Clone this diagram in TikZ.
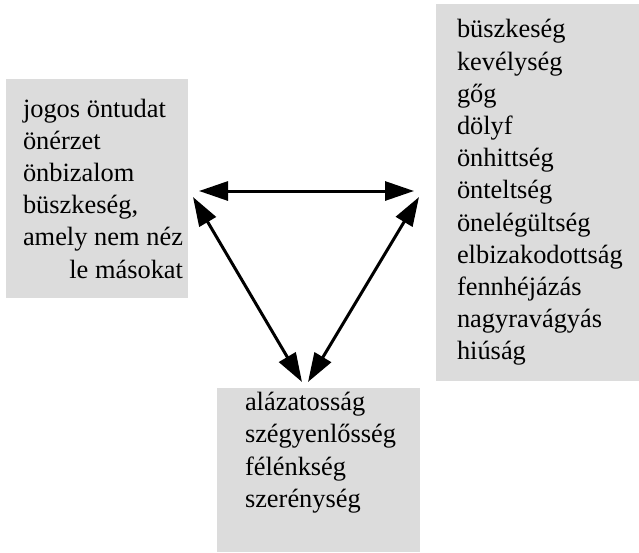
\documentclass[tikz,border=0pt]{standalone}
\usepackage{fontspec}
\setmainfont{Liberation Serif}
\usepackage{xcolor}
\usetikzlibrary{arrows.meta, positioning}
\definecolor{boxgray}{RGB}{220,220,220}
\tikzset{
    wordbox/.style={rectangle, fill=boxgray, inner sep=0pt, font=\fontsize{26.4}{32.2}\selectfont},
    biarrow/.style={{Triangle[length=29pt, width=19pt]}-{Triangle[length=29pt, width=19pt]}, line width=3pt},
}

\begin{document}
\begin{tikzpicture}[x=1pt, y=-1pt]
    \useasboundingbox (0,0) rectangle (639,552);

    % Left box
    \node[wordbox, minimum height=219pt] (pride) at (97,188.5)
        {\parbox{182pt}{\leftskip=17pt \rightskip=5pt
        jogos öntudat\\önérzet\\önbizalom\\büszkeség,\\amely nem néz\linebreak
        \hspace*{\fill}le másokat}};

    % Right box
    \node[wordbox, minimum height=377pt] (arrogance) at (537.5,192.5)
        {\parbox{203pt}{\leftskip=21pt
        büszkeség\\kevélység\\gőg\\dölyf\\önhittség\\önteltség\\önelégültség\\elbizakodottság\\fennhéjázás\\nagyravágyás\\hiúság}};

    % Bottom box
    \node[wordbox, minimum height=164pt] (humility) at (318.5,470)
        {\parbox{203pt}{\leftskip=28pt
        alázatosság\\szégyenlősség\\félénkség\\szerénység\\[8pt]\mbox{}}};

    % Arrow ends
    \coordinate (pride-e) at (199,191);
    \coordinate (pride-s) at (193,197);
    \coordinate (arrogance-w) at (414,191);
    \coordinate (arrogance-s) at (419,197);
    \coordinate (humility-l) at (302,382);
    \coordinate (humility-r) at (308,382);

    % Arrows
    \draw[biarrow] (pride-e) -- (arrogance-w);
    \draw[biarrow] (pride-s) -- (humility-l);
    \draw[biarrow] (arrogance-s) -- (humility-r);
\end{tikzpicture}
\end{document}
